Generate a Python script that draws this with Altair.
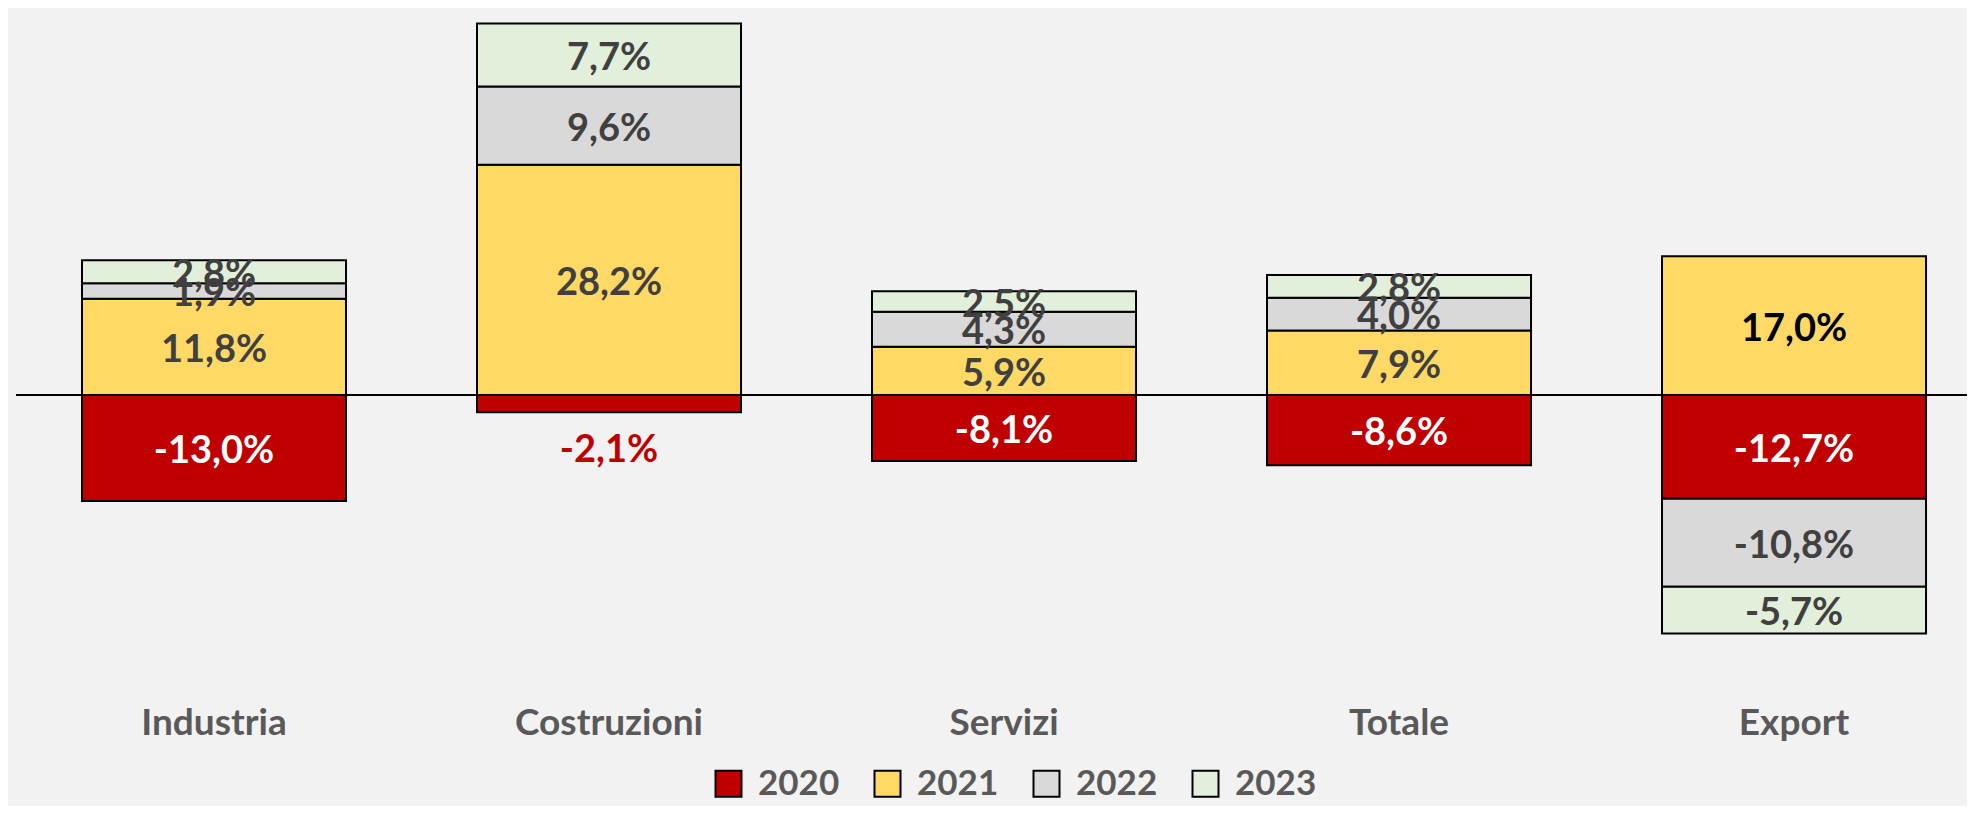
import altair as alt
import pandas as pd

categories = ["Industria", "Costruzioni", "Servizi", "Totale", "Export"]
years = ["2020", "2021", "2022", "2023"]
v2020 = [-13.0, -2.1, -8.1, -8.6, -12.7]
v2021 = [11.8, 28.2, 5.9, 7.9, 17.0]
v2022 = [1.9, 9.6, 4.3, 4.0, -10.8]
v2023 = [2.8, 7.7, 2.5, 2.8, -5.7]
colors = ["#C00000", "#FFD966", "#D9D9D9", "#E2EFDA"]

rows = []
for yr, vals in zip(years, [v2020, v2021, v2022, v2023]):
    for c, v in zip(categories, vals):
        rows.append({"cat": c, "year": yr, "value": v,
                     "label": f"{v:.1f}".replace(".", ",") + "%"})
df = pd.DataFrame(rows)

FONT = "Lato"
yscale = alt.Scale(domain=[-32.46, 46.42], nice=False, zero=False)
xenc = alt.X("cat:N", sort=categories, title=None,
             scale=alt.Scale(paddingInner=0.3316, paddingOuter=0.1354, align=0.617),
             axis=alt.Axis(domain=False, ticks=False, tickSize=0, grid=False,
                           labelFont=FONT, labelFontWeight="bold", labelFontSize=37,
                           labelColor="#595959", labelPadding=63, labelBaseline="middle",
                           labelAngle=0, labelLimit=0))

base = alt.Chart(df).transform_stack(
    stack="value", groupby=["cat"], as_=["v0", "v1"],
    sort=[alt.SortField("year", order="ascending")])

rule = alt.Chart(pd.DataFrame({"z": [0]})).mark_rule(color="black", strokeWidth=2).encode(
    y=alt.Y("z:Q", scale=yscale, axis=None))

bars = base.mark_bar(stroke="black", strokeWidth=2).encode(
    x=xenc,
    y=alt.Y("v0:Q", scale=yscale, axis=None),
    y2="v1:Q",
    fill=alt.Fill("year:N", scale=alt.Scale(domain=years, range=colors),
                  legend=alt.Legend(title=None, orient="none", direction="horizontal",
                                    legendX=695, legendY=750, padding=0, columns=4,
                                    columnPadding=30, symbolType="square", symbolSize=676,
                                    symbolStrokeColor="black", symbolStrokeWidth=2,
                                    symbolOpacity=1, labelOffset=12,
                                    labelFont=FONT, labelFontWeight="bold",
                                    labelFontSize=35, labelColor="#595959")),
    order=alt.Order("year:N"),
)

inside = base.transform_filter(
    "!(datum.year == '2020' && abs(datum.value) < 3)"
).transform_calculate(
    mid="(datum.v0 + datum.v1) / 2",
    tcol="datum.year == '2020' ? '#FFFFFF' : (datum.cat == 'Export' && datum.year == '2021' ? '#000000' : '#404040')",
).mark_text(font=FONT, fontWeight="bold", fontSize=38, baseline="middle", dy=4).encode(
    x=xenc,
    y=alt.Y("mid:Q", scale=yscale, axis=None),
    text="label:N",
    color=alt.Color("tcol:N", scale=None),
)

outside = base.transform_filter(
    "datum.year == '2020' && abs(datum.value) < 3"
).mark_text(font=FONT, fontWeight="bold", fontSize=38, baseline="middle", dy=39,
            color="#C00000").encode(
    x=xenc,
    y=alt.Y("v1:Q", scale=yscale, axis=None),
    text="label:N",
)

chart = alt.layer(rule, bars, inside, outside).properties(
    width=1951, height=644,
    autosize=alt.AutoSizeParams(type="none"),
    padding={"left": 8, "top": 8, "right": 0, "bottom": 146},
    background="#F2F2F2",
).configure_view(stroke=None)

chart.save("out.html", embed_options={"renderer": "svg", "actions": False})
